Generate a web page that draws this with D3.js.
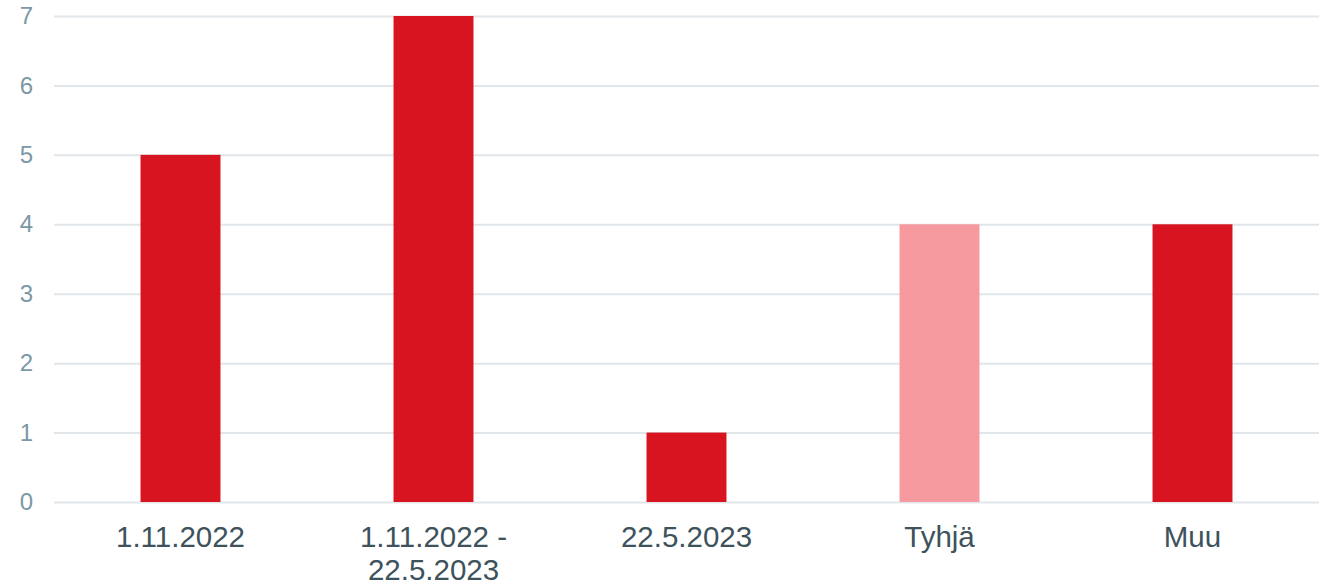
<!DOCTYPE html>
<html>
<head>
<meta charset="utf-8">
<script src="https://cdn.jsdelivr.net/npm/d3@7"></script>
<style>
  body { margin: 0; background: #fff; }
  svg { display: block; font-family: "Liberation Sans", Arial, sans-serif; }
</style>
</head>
<body>
<script>

// Chart data
const categories = ["1.11.2022", "1.11.2022 - 22.5.2023", "22.5.2023", "Tyhjä", "Muu"];
const labelLines = [["1.11.2022"], ["1.11.2022 -", "22.5.2023"], ["22.5.2023"], ["Tyhjä"], ["Muu"]];
const values = [5, 7, 1, 4, 4];
const yTicks = [0, 1, 2, 3, 4, 5, 6, 7];

function drawChart(){

    const width = 1319;
    const height = 584;
    const marginTop = 16;
    const marginRight = 0;
    const marginBottom = 82;
    const marginLeft = 54;

    const svg = d3.create("svg")
        .attr("width", width)
        .attr("height", height)
        .attr("viewBox", [0, 0, width, height]);

    // x scale for the categories
    const x = d3.scaleBand()
        .domain(categories)
        .range([marginLeft, width - marginRight])
        .paddingInner(0.684)
        .paddingOuter(0.342);

    // y scale
    const y = d3.scaleLinear()
        .domain([0, 7])
        .range([height - marginBottom, marginTop]);

    // y axis with grid lines
    svg.append("g")
        .attr("transform", `translate(${marginLeft},0)`)
        .call(d3.axisLeft(y).tickValues(yTicks).tickFormat(d3.format("d")).tickSize(0).tickPadding(21))
        .call(g => g.select(".domain").remove())
        .call(g => g.selectAll(".tick text")
            .attr("fill", "#7b98a6")
            .style("font-size", "24px")
            .style("font-family", "\"Liberation Sans\", Arial, sans-serif"))
        .call(g => g.selectAll(".tick line").clone()
            .attr("x2", width - marginLeft - marginRight)
            .attr("stroke", "#e1e6ea")
            .attr("stroke-width", 2));

    // bars
    svg.append("g")
        .selectAll("rect")
        .data(values)
        .join("rect")
        .attr("x", (d, i) => x(categories[i]))
        .attr("y", d => y(d))
        .attr("width", x.bandwidth())
        .attr("height", d => y(0) - y(d))
        .attr("fill", (d, i) => categories[i] == "Tyhjä" ? "#f79a9f" : "#d7141f");

    // x labels, some are on two lines
    const xl = svg.append("g")
        .selectAll("text")
        .data(categories)
        .join("text")
        .attr("x", d => x(d) + x.bandwidth() / 2)
        .attr("y", 547)
        .attr("text-anchor", "middle")
        .attr("fill", "#3e525c")
        .style("font-size", "29.5px");

    xl.selectAll("tspan")
        .data((d, i) => labelLines[i])
        .join("tspan")
        .attr("x", function(){ return d3.select(this.parentNode).attr("x"); })
        .attr("dy", (d, i) => i == 0 ? 0 : 33)
        .text(d => d);

    document.body.appendChild(svg.node());
}

drawChart();
</script>
</body>
</html>
